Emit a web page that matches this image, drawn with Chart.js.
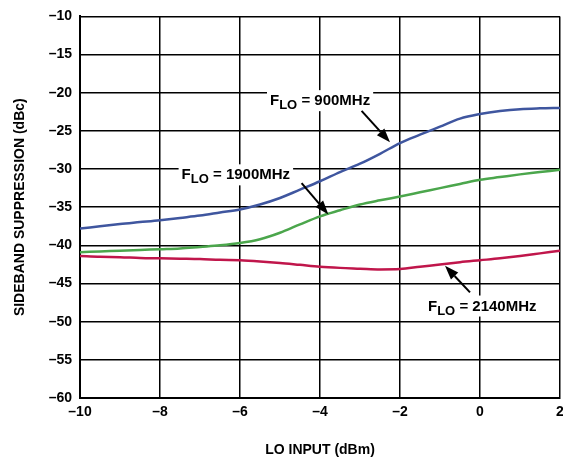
<!DOCTYPE html>
<html>
<head>
<meta charset="utf-8">
<script src="https://cdn.jsdelivr.net/npm/chart.js@4.4.0/dist/chart.umd.min.js"></script>
<style>
  html, body { margin: 0; padding: 0; background: #fff; }
  #wrap { width: 563px; height: 459px; position: relative; }
</style>
</head>
<body>
<div id="wrap"><canvas id="chart"></canvas></div>
<script>
// ========== Data ==========
const loInput = [-10, -9.5, -9, -8.5, -8, -7.5, -7, -6.5, -6, -5.5, -5, -4.5, -4,
                 -3.5, -3, -2.5, -2, -1.5, -1, -0.5, 0, 0.5, 1, 1.5, 2];
const sb900 = [-37.8, -37.5, -37.2, -36.95, -36.7, -36.4, -36.1, -35.7, -35.3, -34.65, -33.8, -32.7, -31.6,
               -30.4, -29.3, -28.0, -26.6, -25.5, -24.45, -23.4, -22.8, -22.4, -22.15, -22.05, -22.0];
const sb1900 = [-40.9, -40.8, -40.7, -40.6, -40.5, -40.4, -40.2, -40.0, -39.7, -39.2, -38.35, -37.25, -36.2,
                -35.4, -34.65, -34.1, -33.6, -33.05, -32.5, -31.95, -31.4, -31.05, -30.7, -30.4, -30.1];
const sb2140 = [-41.4, -41.5, -41.55, -41.65, -41.7, -41.75, -41.8, -41.9, -41.95, -42.1, -42.3, -42.55, -42.8,
                -42.95, -43.05, -43.15, -43.1, -42.8, -42.5, -42.2, -41.95, -41.7, -41.4, -41.05, -40.7];
const xTicks = [-10, -8, -6, -4, -2, 0, 2];
const yTicks = [-10, -15, -20, -25, -30, -35, -40, -45, -50, -55, -60];

// label text, label position (data coords), arrow start -> tip (data coords)
const notes = [
  { rest: ' = 900MHz', at: [-5.25, -21.63], from: [-2.96, -22.37], to: [-2.25, -26.5] },
  { rest: ' = 1900MHz', at: [-7.46, -31.35], from: [-4.46, -31.84], to: [-3.79, -35.95] },
  { rest: ' = 2140MHz', at: [-1.3, -48.54], from: [-0.25, -46.16], to: [-0.875, -42.68] }
];

const FONT = '"Liberation Sans", Arial, sans-serif';
const dash = v => (v < 0 ? '\u2013' + Math.abs(v) : String(v));

const toPts = ys => loInput.map((x, i) => ({ x, y: ys[i] }));

// ========== Annotation plugin ==========
const notePlugin = {
  id: 'notes',
  afterDatasetsDraw(chart) {
    const { ctx, scales: { x, y } } = chart;
    ctx.save();
    notes.forEach(n => {
      const px0 = x.getPixelForValue(n.at[0]);
      const py = y.getPixelForValue(n.at[1]);
      ctx.textBaseline = 'alphabetic';
      ctx.textAlign = 'left';

      // measure first, white box behind the label
      ctx.font = 'bold 15px ' + FONT;
      const wF = ctx.measureText('F').width;
      const wRest = ctx.measureText(n.rest).width;
      ctx.font = 'bold 13px ' + FONT;
      const wSub = ctx.measureText('LO').width;
      ctx.fillStyle = '#fff';
      ctx.fillRect(px0 - 3, py - 15, wF + wSub + wRest + 6, 21);

      ctx.fillStyle = '#000';
      let px = px0;
      ctx.font = 'bold 15px ' + FONT;
      ctx.fillText('F', px, py);
      px += wF;
      ctx.font = 'bold 13px ' + FONT;
      ctx.fillText('LO', px, py + 4);
      px += wSub;
      ctx.font = 'bold 15px ' + FONT;
      ctx.fillText(n.rest, px, py);

      // arrow
      const x1 = x.getPixelForValue(n.from[0]), y1 = y.getPixelForValue(n.from[1]);
      const x2 = x.getPixelForValue(n.to[0]), y2 = y.getPixelForValue(n.to[1]);
      const ang = Math.atan2(y2 - y1, x2 - x1);
      const headLen = 14, headW = 5;
      const bx = x2 - headLen * Math.cos(ang), by = y2 - headLen * Math.sin(ang);
      ctx.strokeStyle = '#000';
      ctx.lineWidth = 2;
      ctx.beginPath();
      ctx.moveTo(x1, y1);
      ctx.lineTo(bx, by);
      ctx.stroke();
      ctx.beginPath();
      ctx.moveTo(x2, y2);
      ctx.lineTo(bx + headW * Math.sin(ang), by - headW * Math.cos(ang));
      ctx.lineTo(bx - headW * Math.sin(ang), by + headW * Math.cos(ang));
      ctx.closePath();
      ctx.fill();
    });
    ctx.restore();
  }
};

const lineStyle = color => ({
  borderColor: color,
  backgroundColor: color,
  borderWidth: 2.5,
  pointRadius: 0,
  cubicInterpolationMode: 'monotone',
  fill: false
});

new Chart(document.getElementById('chart'), {
  type: 'line',
  data: {
    datasets: [
      { label: 'FLO = 900MHz', data: toPts(sb900), ...lineStyle('#3f569f') },
      { label: 'FLO = 1900MHz', data: toPts(sb1900), ...lineStyle('#4ba64c') },
      { label: 'FLO = 2140MHz', data: toPts(sb2140), ...lineStyle('#c0164b') }
    ]
  },
  options: {
    responsive: true,
    maintainAspectRatio: false,
    animation: false,
    layout: { padding: { top: 14, right: 3, left: 0, bottom: 0 } },
    plugins: {
      legend: { display: false },
      tooltip: { enabled: false }
    },
    scales: {
      x: {
        type: 'linear',
        min: -10,
        max: 2,
        afterBuildTicks: s => { s.ticks = xTicks.map(v => ({ value: v })); },
        afterFit: s => { s.height = 61; s.paddingLeft = 0; s.paddingRight = 0; },
        grid: { color: '#000', lineWidth: 1.5, drawTicks: false },
        border: { color: '#000', width: 2 },
        ticks: {
          color: '#000',
          padding: 6,
          font: { family: FONT, size: 14, weight: 'bold' },
          callback: v => dash(v)
        },
        title: {
          display: true,
          text: 'LO INPUT (dBm)',
          color: '#000',
          font: { family: FONT, size: 14, weight: 'bold' },
          padding: { top: 12, bottom: 0 }
        }
      },
      y: {
        type: 'linear',
        min: -60,
        max: -10,
        afterBuildTicks: s => { s.ticks = yTicks.map(v => ({ value: v })); },
        afterFit: s => { s.width = 80; },
        grid: { color: '#000', lineWidth: 1.5, drawTicks: false },
        border: { color: '#000', width: 2 },
        ticks: {
          color: '#000',
          padding: 8,
          font: { family: FONT, size: 14, weight: 'bold' },
          callback: v => dash(v)
        },
        title: {
          display: true,
          text: 'SIDEBAND SUPPRESSION (dBc)',
          color: '#000',
          font: { family: FONT, size: 14, weight: 'bold' },
          padding: { top: 12, bottom: 4 }
        }
      }
    }
  },
  plugins: [notePlugin]
});
</script>
</body>
</html>
